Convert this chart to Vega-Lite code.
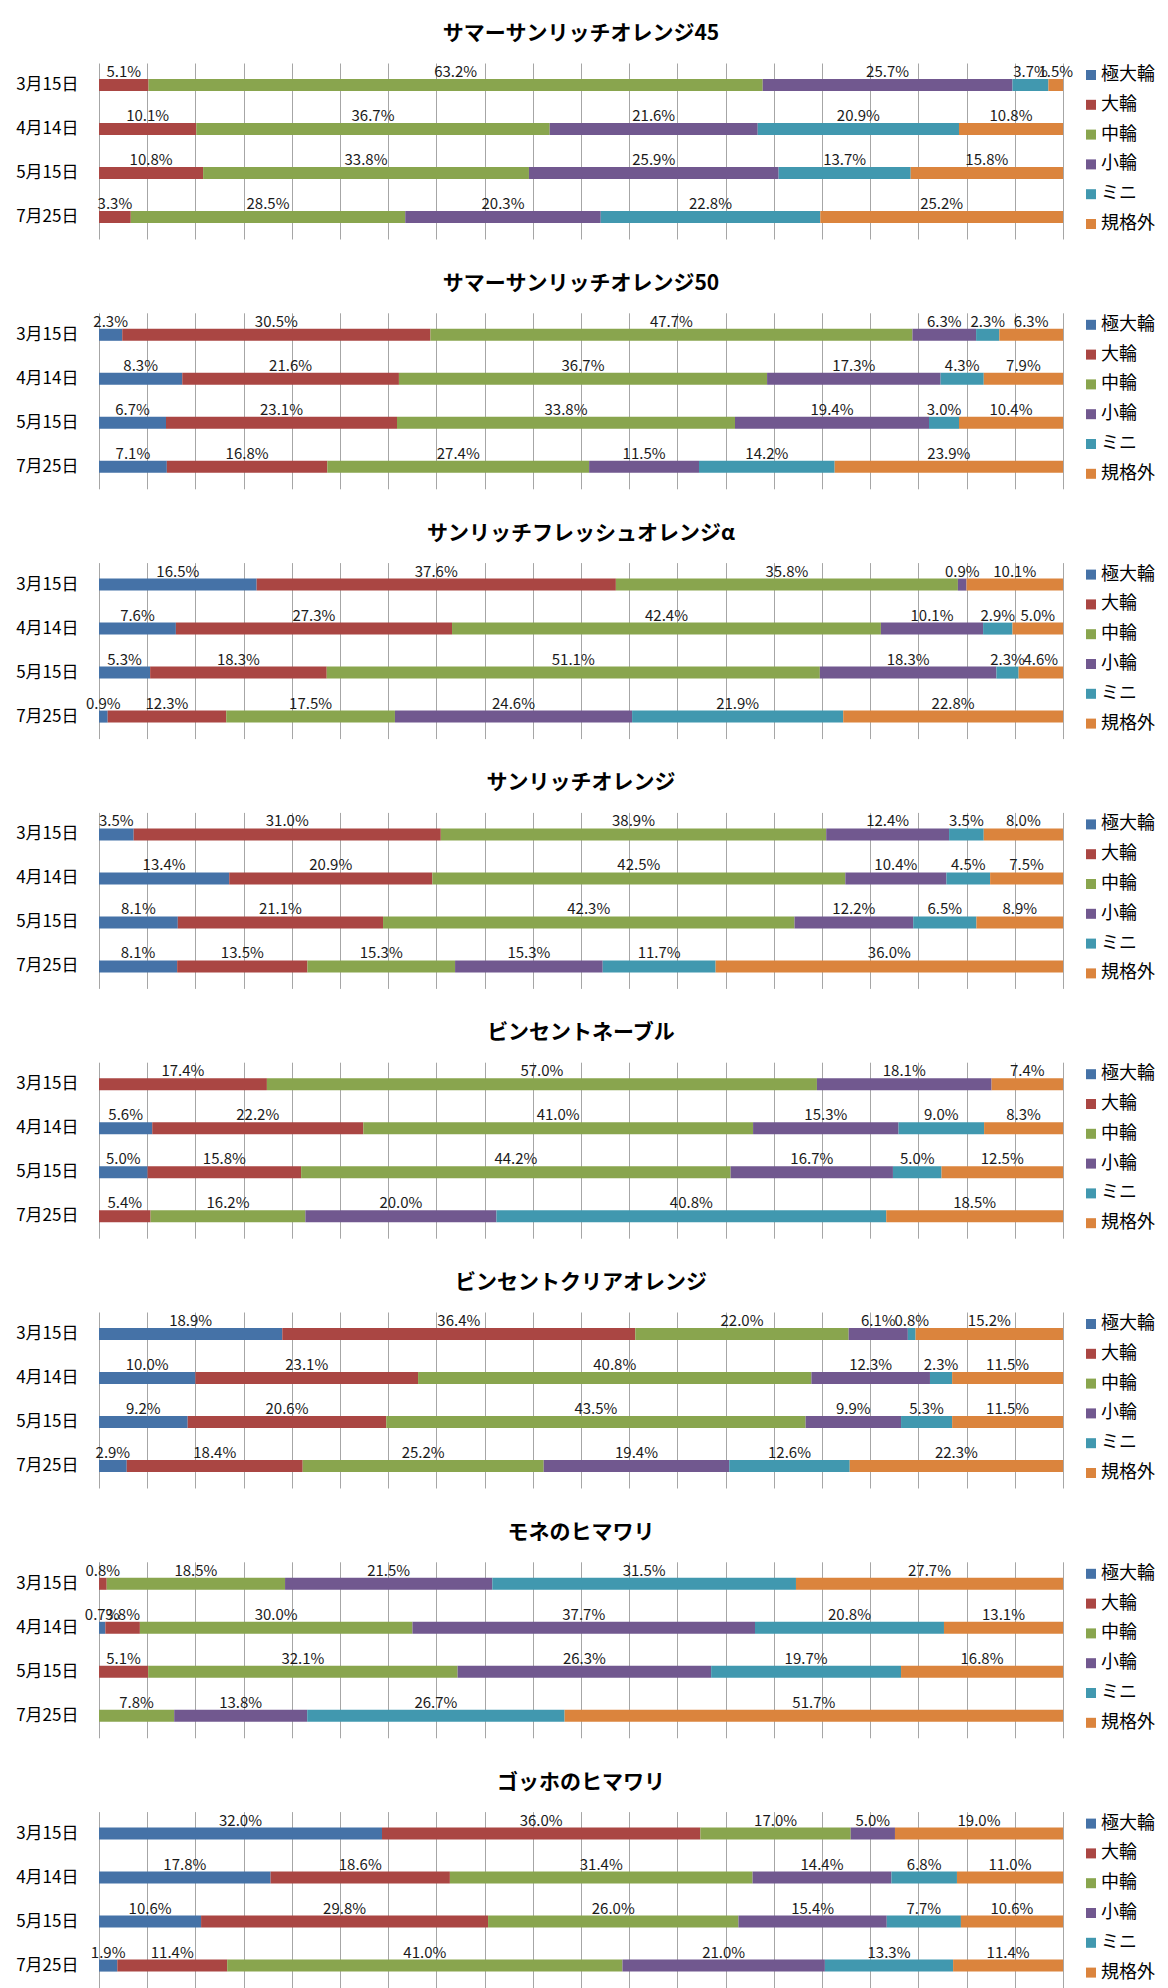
{
  "$schema": "https://vega.github.io/schema/vega-lite/v6.json",
  "padding": {"left": 15, "top": 23, "right": 5, "bottom": 1},
  "background": "#ffffff",
  "data": {"values": [
    {"v":"サマーサンリッチオレンジ45","d":"3月15日","c":"大輪","o":1,"p":0.051},
    {"v":"サマーサンリッチオレンジ45","d":"3月15日","c":"中輪","o":2,"p":0.632},
    {"v":"サマーサンリッチオレンジ45","d":"3月15日","c":"小輪","o":3,"p":0.257},
    {"v":"サマーサンリッチオレンジ45","d":"3月15日","c":"ミニ","o":4,"p":0.037},
    {"v":"サマーサンリッチオレンジ45","d":"3月15日","c":"規格外","o":5,"p":0.015},
    {"v":"サマーサンリッチオレンジ45","d":"4月14日","c":"大輪","o":1,"p":0.101},
    {"v":"サマーサンリッチオレンジ45","d":"4月14日","c":"中輪","o":2,"p":0.367},
    {"v":"サマーサンリッチオレンジ45","d":"4月14日","c":"小輪","o":3,"p":0.216},
    {"v":"サマーサンリッチオレンジ45","d":"4月14日","c":"ミニ","o":4,"p":0.209},
    {"v":"サマーサンリッチオレンジ45","d":"4月14日","c":"規格外","o":5,"p":0.108},
    {"v":"サマーサンリッチオレンジ45","d":"5月15日","c":"大輪","o":1,"p":0.108},
    {"v":"サマーサンリッチオレンジ45","d":"5月15日","c":"中輪","o":2,"p":0.338},
    {"v":"サマーサンリッチオレンジ45","d":"5月15日","c":"小輪","o":3,"p":0.259},
    {"v":"サマーサンリッチオレンジ45","d":"5月15日","c":"ミニ","o":4,"p":0.137},
    {"v":"サマーサンリッチオレンジ45","d":"5月15日","c":"規格外","o":5,"p":0.158},
    {"v":"サマーサンリッチオレンジ45","d":"7月25日","c":"大輪","o":1,"p":0.033},
    {"v":"サマーサンリッチオレンジ45","d":"7月25日","c":"中輪","o":2,"p":0.285},
    {"v":"サマーサンリッチオレンジ45","d":"7月25日","c":"小輪","o":3,"p":0.203},
    {"v":"サマーサンリッチオレンジ45","d":"7月25日","c":"ミニ","o":4,"p":0.228},
    {"v":"サマーサンリッチオレンジ45","d":"7月25日","c":"規格外","o":5,"p":0.252},

    {"v":"サマーサンリッチオレンジ50","d":"3月15日","c":"極大輪","o":0,"p":0.023},
    {"v":"サマーサンリッチオレンジ50","d":"3月15日","c":"大輪","o":1,"p":0.305},
    {"v":"サマーサンリッチオレンジ50","d":"3月15日","c":"中輪","o":2,"p":0.477},
    {"v":"サマーサンリッチオレンジ50","d":"3月15日","c":"小輪","o":3,"p":0.063},
    {"v":"サマーサンリッチオレンジ50","d":"3月15日","c":"ミニ","o":4,"p":0.023},
    {"v":"サマーサンリッチオレンジ50","d":"3月15日","c":"規格外","o":5,"p":0.063},
    {"v":"サマーサンリッチオレンジ50","d":"4月14日","c":"極大輪","o":0,"p":0.083},
    {"v":"サマーサンリッチオレンジ50","d":"4月14日","c":"大輪","o":1,"p":0.216},
    {"v":"サマーサンリッチオレンジ50","d":"4月14日","c":"中輪","o":2,"p":0.367},
    {"v":"サマーサンリッチオレンジ50","d":"4月14日","c":"小輪","o":3,"p":0.173},
    {"v":"サマーサンリッチオレンジ50","d":"4月14日","c":"ミニ","o":4,"p":0.043},
    {"v":"サマーサンリッチオレンジ50","d":"4月14日","c":"規格外","o":5,"p":0.079},
    {"v":"サマーサンリッチオレンジ50","d":"5月15日","c":"極大輪","o":0,"p":0.067},
    {"v":"サマーサンリッチオレンジ50","d":"5月15日","c":"大輪","o":1,"p":0.231},
    {"v":"サマーサンリッチオレンジ50","d":"5月15日","c":"中輪","o":2,"p":0.338},
    {"v":"サマーサンリッチオレンジ50","d":"5月15日","c":"小輪","o":3,"p":0.194},
    {"v":"サマーサンリッチオレンジ50","d":"5月15日","c":"ミニ","o":4,"p":0.030},
    {"v":"サマーサンリッチオレンジ50","d":"5月15日","c":"規格外","o":5,"p":0.104},
    {"v":"サマーサンリッチオレンジ50","d":"7月25日","c":"極大輪","o":0,"p":0.071},
    {"v":"サマーサンリッチオレンジ50","d":"7月25日","c":"大輪","o":1,"p":0.168},
    {"v":"サマーサンリッチオレンジ50","d":"7月25日","c":"中輪","o":2,"p":0.274},
    {"v":"サマーサンリッチオレンジ50","d":"7月25日","c":"小輪","o":3,"p":0.115},
    {"v":"サマーサンリッチオレンジ50","d":"7月25日","c":"ミニ","o":4,"p":0.142},
    {"v":"サマーサンリッチオレンジ50","d":"7月25日","c":"規格外","o":5,"p":0.239},

    {"v":"サンリッチフレッシュオレンジα","d":"3月15日","c":"極大輪","o":0,"p":0.165},
    {"v":"サンリッチフレッシュオレンジα","d":"3月15日","c":"大輪","o":1,"p":0.376},
    {"v":"サンリッチフレッシュオレンジα","d":"3月15日","c":"中輪","o":2,"p":0.358},
    {"v":"サンリッチフレッシュオレンジα","d":"3月15日","c":"小輪","o":3,"p":0.009},
    {"v":"サンリッチフレッシュオレンジα","d":"3月15日","c":"規格外","o":5,"p":0.101},
    {"v":"サンリッチフレッシュオレンジα","d":"4月14日","c":"極大輪","o":0,"p":0.076},
    {"v":"サンリッチフレッシュオレンジα","d":"4月14日","c":"大輪","o":1,"p":0.273},
    {"v":"サンリッチフレッシュオレンジα","d":"4月14日","c":"中輪","o":2,"p":0.424},
    {"v":"サンリッチフレッシュオレンジα","d":"4月14日","c":"小輪","o":3,"p":0.101},
    {"v":"サンリッチフレッシュオレンジα","d":"4月14日","c":"ミニ","o":4,"p":0.029},
    {"v":"サンリッチフレッシュオレンジα","d":"4月14日","c":"規格外","o":5,"p":0.050},
    {"v":"サンリッチフレッシュオレンジα","d":"5月15日","c":"極大輪","o":0,"p":0.053},
    {"v":"サンリッチフレッシュオレンジα","d":"5月15日","c":"大輪","o":1,"p":0.183},
    {"v":"サンリッチフレッシュオレンジα","d":"5月15日","c":"中輪","o":2,"p":0.511},
    {"v":"サンリッチフレッシュオレンジα","d":"5月15日","c":"小輪","o":3,"p":0.183},
    {"v":"サンリッチフレッシュオレンジα","d":"5月15日","c":"ミニ","o":4,"p":0.023},
    {"v":"サンリッチフレッシュオレンジα","d":"5月15日","c":"規格外","o":5,"p":0.046},
    {"v":"サンリッチフレッシュオレンジα","d":"7月25日","c":"極大輪","o":0,"p":0.009},
    {"v":"サンリッチフレッシュオレンジα","d":"7月25日","c":"大輪","o":1,"p":0.123},
    {"v":"サンリッチフレッシュオレンジα","d":"7月25日","c":"中輪","o":2,"p":0.175},
    {"v":"サンリッチフレッシュオレンジα","d":"7月25日","c":"小輪","o":3,"p":0.246},
    {"v":"サンリッチフレッシュオレンジα","d":"7月25日","c":"ミニ","o":4,"p":0.219},
    {"v":"サンリッチフレッシュオレンジα","d":"7月25日","c":"規格外","o":5,"p":0.228},

    {"v":"サンリッチオレンジ","d":"3月15日","c":"極大輪","o":0,"p":0.035},
    {"v":"サンリッチオレンジ","d":"3月15日","c":"大輪","o":1,"p":0.310},
    {"v":"サンリッチオレンジ","d":"3月15日","c":"中輪","o":2,"p":0.389},
    {"v":"サンリッチオレンジ","d":"3月15日","c":"小輪","o":3,"p":0.124},
    {"v":"サンリッチオレンジ","d":"3月15日","c":"ミニ","o":4,"p":0.035},
    {"v":"サンリッチオレンジ","d":"3月15日","c":"規格外","o":5,"p":0.080},
    {"v":"サンリッチオレンジ","d":"4月14日","c":"極大輪","o":0,"p":0.134},
    {"v":"サンリッチオレンジ","d":"4月14日","c":"大輪","o":1,"p":0.209},
    {"v":"サンリッチオレンジ","d":"4月14日","c":"中輪","o":2,"p":0.425},
    {"v":"サンリッチオレンジ","d":"4月14日","c":"小輪","o":3,"p":0.104},
    {"v":"サンリッチオレンジ","d":"4月14日","c":"ミニ","o":4,"p":0.045},
    {"v":"サンリッチオレンジ","d":"4月14日","c":"規格外","o":5,"p":0.075},
    {"v":"サンリッチオレンジ","d":"5月15日","c":"極大輪","o":0,"p":0.081},
    {"v":"サンリッチオレンジ","d":"5月15日","c":"大輪","o":1,"p":0.211},
    {"v":"サンリッチオレンジ","d":"5月15日","c":"中輪","o":2,"p":0.423},
    {"v":"サンリッチオレンジ","d":"5月15日","c":"小輪","o":3,"p":0.122},
    {"v":"サンリッチオレンジ","d":"5月15日","c":"ミニ","o":4,"p":0.065},
    {"v":"サンリッチオレンジ","d":"5月15日","c":"規格外","o":5,"p":0.089},
    {"v":"サンリッチオレンジ","d":"7月25日","c":"極大輪","o":0,"p":0.081},
    {"v":"サンリッチオレンジ","d":"7月25日","c":"大輪","o":1,"p":0.135},
    {"v":"サンリッチオレンジ","d":"7月25日","c":"中輪","o":2,"p":0.153},
    {"v":"サンリッチオレンジ","d":"7月25日","c":"小輪","o":3,"p":0.153},
    {"v":"サンリッチオレンジ","d":"7月25日","c":"ミニ","o":4,"p":0.117},
    {"v":"サンリッチオレンジ","d":"7月25日","c":"規格外","o":5,"p":0.360},

    {"v":"ビンセントネーブル","d":"3月15日","c":"大輪","o":1,"p":0.174},
    {"v":"ビンセントネーブル","d":"3月15日","c":"中輪","o":2,"p":0.570},
    {"v":"ビンセントネーブル","d":"3月15日","c":"小輪","o":3,"p":0.181},
    {"v":"ビンセントネーブル","d":"3月15日","c":"規格外","o":5,"p":0.074},
    {"v":"ビンセントネーブル","d":"4月14日","c":"極大輪","o":0,"p":0.056},
    {"v":"ビンセントネーブル","d":"4月14日","c":"大輪","o":1,"p":0.222},
    {"v":"ビンセントネーブル","d":"4月14日","c":"中輪","o":2,"p":0.410},
    {"v":"ビンセントネーブル","d":"4月14日","c":"小輪","o":3,"p":0.153},
    {"v":"ビンセントネーブル","d":"4月14日","c":"ミニ","o":4,"p":0.090},
    {"v":"ビンセントネーブル","d":"4月14日","c":"規格外","o":5,"p":0.083},
    {"v":"ビンセントネーブル","d":"5月15日","c":"極大輪","o":0,"p":0.050},
    {"v":"ビンセントネーブル","d":"5月15日","c":"大輪","o":1,"p":0.158},
    {"v":"ビンセントネーブル","d":"5月15日","c":"中輪","o":2,"p":0.442},
    {"v":"ビンセントネーブル","d":"5月15日","c":"小輪","o":3,"p":0.167},
    {"v":"ビンセントネーブル","d":"5月15日","c":"ミニ","o":4,"p":0.050},
    {"v":"ビンセントネーブル","d":"5月15日","c":"規格外","o":5,"p":0.125},
    {"v":"ビンセントネーブル","d":"7月25日","c":"大輪","o":1,"p":0.054},
    {"v":"ビンセントネーブル","d":"7月25日","c":"中輪","o":2,"p":0.162},
    {"v":"ビンセントネーブル","d":"7月25日","c":"小輪","o":3,"p":0.200},
    {"v":"ビンセントネーブル","d":"7月25日","c":"ミニ","o":4,"p":0.408},
    {"v":"ビンセントネーブル","d":"7月25日","c":"規格外","o":5,"p":0.185},

    {"v":"ビンセントクリアオレンジ","d":"3月15日","c":"極大輪","o":0,"p":0.189},
    {"v":"ビンセントクリアオレンジ","d":"3月15日","c":"大輪","o":1,"p":0.364},
    {"v":"ビンセントクリアオレンジ","d":"3月15日","c":"中輪","o":2,"p":0.220},
    {"v":"ビンセントクリアオレンジ","d":"3月15日","c":"小輪","o":3,"p":0.061},
    {"v":"ビンセントクリアオレンジ","d":"3月15日","c":"ミニ","o":4,"p":0.008},
    {"v":"ビンセントクリアオレンジ","d":"3月15日","c":"規格外","o":5,"p":0.152},
    {"v":"ビンセントクリアオレンジ","d":"4月14日","c":"極大輪","o":0,"p":0.100},
    {"v":"ビンセントクリアオレンジ","d":"4月14日","c":"大輪","o":1,"p":0.231},
    {"v":"ビンセントクリアオレンジ","d":"4月14日","c":"中輪","o":2,"p":0.408},
    {"v":"ビンセントクリアオレンジ","d":"4月14日","c":"小輪","o":3,"p":0.123},
    {"v":"ビンセントクリアオレンジ","d":"4月14日","c":"ミニ","o":4,"p":0.023},
    {"v":"ビンセントクリアオレンジ","d":"4月14日","c":"規格外","o":5,"p":0.115},
    {"v":"ビンセントクリアオレンジ","d":"5月15日","c":"極大輪","o":0,"p":0.092},
    {"v":"ビンセントクリアオレンジ","d":"5月15日","c":"大輪","o":1,"p":0.206},
    {"v":"ビンセントクリアオレンジ","d":"5月15日","c":"中輪","o":2,"p":0.435},
    {"v":"ビンセントクリアオレンジ","d":"5月15日","c":"小輪","o":3,"p":0.099},
    {"v":"ビンセントクリアオレンジ","d":"5月15日","c":"ミニ","o":4,"p":0.053},
    {"v":"ビンセントクリアオレンジ","d":"5月15日","c":"規格外","o":5,"p":0.115},
    {"v":"ビンセントクリアオレンジ","d":"7月25日","c":"極大輪","o":0,"p":0.029},
    {"v":"ビンセントクリアオレンジ","d":"7月25日","c":"大輪","o":1,"p":0.184},
    {"v":"ビンセントクリアオレンジ","d":"7月25日","c":"中輪","o":2,"p":0.252},
    {"v":"ビンセントクリアオレンジ","d":"7月25日","c":"小輪","o":3,"p":0.194},
    {"v":"ビンセントクリアオレンジ","d":"7月25日","c":"ミニ","o":4,"p":0.126},
    {"v":"ビンセントクリアオレンジ","d":"7月25日","c":"規格外","o":5,"p":0.223},

    {"v":"モネのヒマワリ","d":"3月15日","c":"大輪","o":1,"p":0.008},
    {"v":"モネのヒマワリ","d":"3月15日","c":"中輪","o":2,"p":0.185},
    {"v":"モネのヒマワリ","d":"3月15日","c":"小輪","o":3,"p":0.215},
    {"v":"モネのヒマワリ","d":"3月15日","c":"ミニ","o":4,"p":0.315},
    {"v":"モネのヒマワリ","d":"3月15日","c":"規格外","o":5,"p":0.277},
    {"v":"モネのヒマワリ","d":"4月14日","c":"極大輪","o":0,"p":0.007},
    {"v":"モネのヒマワリ","d":"4月14日","c":"大輪","o":1,"p":0.038},
    {"v":"モネのヒマワリ","d":"4月14日","c":"中輪","o":2,"p":0.300},
    {"v":"モネのヒマワリ","d":"4月14日","c":"小輪","o":3,"p":0.377},
    {"v":"モネのヒマワリ","d":"4月14日","c":"ミニ","o":4,"p":0.208},
    {"v":"モネのヒマワリ","d":"4月14日","c":"規格外","o":5,"p":0.131},
    {"v":"モネのヒマワリ","d":"5月15日","c":"大輪","o":1,"p":0.051},
    {"v":"モネのヒマワリ","d":"5月15日","c":"中輪","o":2,"p":0.321},
    {"v":"モネのヒマワリ","d":"5月15日","c":"小輪","o":3,"p":0.263},
    {"v":"モネのヒマワリ","d":"5月15日","c":"ミニ","o":4,"p":0.197},
    {"v":"モネのヒマワリ","d":"5月15日","c":"規格外","o":5,"p":0.168},
    {"v":"モネのヒマワリ","d":"7月25日","c":"中輪","o":2,"p":0.078},
    {"v":"モネのヒマワリ","d":"7月25日","c":"小輪","o":3,"p":0.138},
    {"v":"モネのヒマワリ","d":"7月25日","c":"ミニ","o":4,"p":0.267},
    {"v":"モネのヒマワリ","d":"7月25日","c":"規格外","o":5,"p":0.517},

    {"v":"ゴッホのヒマワリ","d":"3月15日","c":"極大輪","o":0,"p":0.320},
    {"v":"ゴッホのヒマワリ","d":"3月15日","c":"大輪","o":1,"p":0.360},
    {"v":"ゴッホのヒマワリ","d":"3月15日","c":"中輪","o":2,"p":0.170},
    {"v":"ゴッホのヒマワリ","d":"3月15日","c":"小輪","o":3,"p":0.050},
    {"v":"ゴッホのヒマワリ","d":"3月15日","c":"規格外","o":5,"p":0.190},
    {"v":"ゴッホのヒマワリ","d":"4月14日","c":"極大輪","o":0,"p":0.178},
    {"v":"ゴッホのヒマワリ","d":"4月14日","c":"大輪","o":1,"p":0.186},
    {"v":"ゴッホのヒマワリ","d":"4月14日","c":"中輪","o":2,"p":0.314},
    {"v":"ゴッホのヒマワリ","d":"4月14日","c":"小輪","o":3,"p":0.144},
    {"v":"ゴッホのヒマワリ","d":"4月14日","c":"ミニ","o":4,"p":0.068},
    {"v":"ゴッホのヒマワリ","d":"4月14日","c":"規格外","o":5,"p":0.110},
    {"v":"ゴッホのヒマワリ","d":"5月15日","c":"極大輪","o":0,"p":0.106},
    {"v":"ゴッホのヒマワリ","d":"5月15日","c":"大輪","o":1,"p":0.298},
    {"v":"ゴッホのヒマワリ","d":"5月15日","c":"中輪","o":2,"p":0.260},
    {"v":"ゴッホのヒマワリ","d":"5月15日","c":"小輪","o":3,"p":0.154},
    {"v":"ゴッホのヒマワリ","d":"5月15日","c":"ミニ","o":4,"p":0.077},
    {"v":"ゴッホのヒマワリ","d":"5月15日","c":"規格外","o":5,"p":0.106},
    {"v":"ゴッホのヒマワリ","d":"7月25日","c":"極大輪","o":0,"p":0.019},
    {"v":"ゴッホのヒマワリ","d":"7月25日","c":"大輪","o":1,"p":0.114},
    {"v":"ゴッホのヒマワリ","d":"7月25日","c":"中輪","o":2,"p":0.410},
    {"v":"ゴッホのヒマワリ","d":"7月25日","c":"小輪","o":3,"p":0.210},
    {"v":"ゴッホのヒマワリ","d":"7月25日","c":"ミニ","o":4,"p":0.133},
    {"v":"ゴッホのヒマワリ","d":"7月25日","c":"規格外","o":5,"p":0.114}
  ]},
  "spacing": 33.8,
  "resolve": {"legend": {"color": "independent"}},
  "vconcat": [
    {"title": "サマーサンリッチオレンジ45", "width": 964, "height": 176,
     "transform": [{"filter": "datum.v === 'サマーサンリッチオレンジ45'"}],
     "encoding": {"y": {"field": "d", "type": "nominal", "sort": ["3月15日","4月14日","5月15日","7月25日"], "title": null}},
     "layer": [
       {"mark": {"type": "bar", "size": 12}, "encoding": {"x": {"field": "p", "type": "quantitative", "stack": "normalize", "title": null}, "color": {"field": "c", "type": "nominal", "scale": {"domain": ["極大輪","大輪","中輪","小輪","ミニ","規格外"]}}, "order": {"field": "o"}}},
       {"mark": {"type": "text"}, "encoding": {"x": {"field": "p", "type": "quantitative", "stack": "normalize", "bandPosition": 0.5}, "detail": {"field": "c"}, "order": {"field": "o"}, "text": {"field": "p", "format": ".1%"}}}
     ]},
    {"title": "サマーサンリッチオレンジ50", "width": 964, "height": 176,
     "transform": [{"filter": "datum.v === 'サマーサンリッチオレンジ50'"}],
     "encoding": {"y": {"field": "d", "type": "nominal", "sort": ["3月15日","4月14日","5月15日","7月25日"], "title": null}},
     "layer": [
       {"mark": {"type": "bar", "size": 12}, "encoding": {"x": {"field": "p", "type": "quantitative", "stack": "normalize", "title": null}, "color": {"field": "c", "type": "nominal", "scale": {"domain": ["極大輪","大輪","中輪","小輪","ミニ","規格外"]}}, "order": {"field": "o"}}},
       {"mark": {"type": "text"}, "encoding": {"x": {"field": "p", "type": "quantitative", "stack": "normalize", "bandPosition": 0.5}, "detail": {"field": "c"}, "order": {"field": "o"}, "text": {"field": "p", "format": ".1%"}}}
     ]},
    {"title": "サンリッチフレッシュオレンジα", "width": 964, "height": 176,
     "transform": [{"filter": "datum.v === 'サンリッチフレッシュオレンジα'"}],
     "encoding": {"y": {"field": "d", "type": "nominal", "sort": ["3月15日","4月14日","5月15日","7月25日"], "title": null}},
     "layer": [
       {"mark": {"type": "bar", "size": 12}, "encoding": {"x": {"field": "p", "type": "quantitative", "stack": "normalize", "title": null}, "color": {"field": "c", "type": "nominal", "scale": {"domain": ["極大輪","大輪","中輪","小輪","ミニ","規格外"]}}, "order": {"field": "o"}}},
       {"mark": {"type": "text"}, "encoding": {"x": {"field": "p", "type": "quantitative", "stack": "normalize", "bandPosition": 0.5}, "detail": {"field": "c"}, "order": {"field": "o"}, "text": {"field": "p", "format": ".1%"}}}
     ]},
    {"title": "サンリッチオレンジ", "width": 964, "height": 176,
     "transform": [{"filter": "datum.v === 'サンリッチオレンジ'"}],
     "encoding": {"y": {"field": "d", "type": "nominal", "sort": ["3月15日","4月14日","5月15日","7月25日"], "title": null}},
     "layer": [
       {"mark": {"type": "bar", "size": 12}, "encoding": {"x": {"field": "p", "type": "quantitative", "stack": "normalize", "title": null}, "color": {"field": "c", "type": "nominal", "scale": {"domain": ["極大輪","大輪","中輪","小輪","ミニ","規格外"]}}, "order": {"field": "o"}}},
       {"mark": {"type": "text"}, "encoding": {"x": {"field": "p", "type": "quantitative", "stack": "normalize", "bandPosition": 0.5}, "detail": {"field": "c"}, "order": {"field": "o"}, "text": {"field": "p", "format": ".1%"}}}
     ]},
    {"title": "ビンセントネーブル", "width": 964, "height": 176,
     "transform": [{"filter": "datum.v === 'ビンセントネーブル'"}],
     "encoding": {"y": {"field": "d", "type": "nominal", "sort": ["3月15日","4月14日","5月15日","7月25日"], "title": null}},
     "layer": [
       {"mark": {"type": "bar", "size": 12}, "encoding": {"x": {"field": "p", "type": "quantitative", "stack": "normalize", "title": null}, "color": {"field": "c", "type": "nominal", "scale": {"domain": ["極大輪","大輪","中輪","小輪","ミニ","規格外"]}}, "order": {"field": "o"}}},
       {"mark": {"type": "text"}, "encoding": {"x": {"field": "p", "type": "quantitative", "stack": "normalize", "bandPosition": 0.5}, "detail": {"field": "c"}, "order": {"field": "o"}, "text": {"field": "p", "format": ".1%"}}}
     ]},
    {"title": "ビンセントクリアオレンジ", "width": 964, "height": 176,
     "transform": [{"filter": "datum.v === 'ビンセントクリアオレンジ'"}],
     "encoding": {"y": {"field": "d", "type": "nominal", "sort": ["3月15日","4月14日","5月15日","7月25日"], "title": null}},
     "layer": [
       {"mark": {"type": "bar", "size": 12}, "encoding": {"x": {"field": "p", "type": "quantitative", "stack": "normalize", "title": null}, "color": {"field": "c", "type": "nominal", "scale": {"domain": ["極大輪","大輪","中輪","小輪","ミニ","規格外"]}}, "order": {"field": "o"}}},
       {"mark": {"type": "text"}, "encoding": {"x": {"field": "p", "type": "quantitative", "stack": "normalize", "bandPosition": 0.5}, "detail": {"field": "c"}, "order": {"field": "o"}, "text": {"field": "p", "format": ".1%"}}}
     ]},
    {"title": "モネのヒマワリ", "width": 964, "height": 176,
     "transform": [{"filter": "datum.v === 'モネのヒマワリ'"}],
     "encoding": {"y": {"field": "d", "type": "nominal", "sort": ["3月15日","4月14日","5月15日","7月25日"], "title": null}},
     "layer": [
       {"mark": {"type": "bar", "size": 12}, "encoding": {"x": {"field": "p", "type": "quantitative", "stack": "normalize", "title": null}, "color": {"field": "c", "type": "nominal", "scale": {"domain": ["極大輪","大輪","中輪","小輪","ミニ","規格外"]}}, "order": {"field": "o"}}},
       {"mark": {"type": "text"}, "encoding": {"x": {"field": "p", "type": "quantitative", "stack": "normalize", "bandPosition": 0.5}, "detail": {"field": "c"}, "order": {"field": "o"}, "text": {"field": "p", "format": ".1%"}}}
     ]},
    {"title": "ゴッホのヒマワリ", "width": 964, "height": 176,
     "transform": [{"filter": "datum.v === 'ゴッホのヒマワリ'"}],
     "encoding": {"y": {"field": "d", "type": "nominal", "sort": ["3月15日","4月14日","5月15日","7月25日"], "title": null}},
     "layer": [
       {"mark": {"type": "bar", "size": 12}, "encoding": {"x": {"field": "p", "type": "quantitative", "stack": "normalize", "title": null}, "color": {"field": "c", "type": "nominal", "scale": {"domain": ["極大輪","大輪","中輪","小輪","ミニ","規格外"]}}, "order": {"field": "o"}}},
       {"mark": {"type": "text"}, "encoding": {"x": {"field": "p", "type": "quantitative", "stack": "normalize", "bandPosition": 0.5}, "detail": {"field": "c"}, "order": {"field": "o"}, "text": {"field": "p", "format": ".1%"}}}
     ]}
  ],
  "config": {
    "font": "Noto Sans CJK JP",
    "view": {"stroke": null},
    "title": {"fontSize": 21, "fontWeight": "bold", "color": "#000000", "offset": 19, "anchor": "middle", "font": "Noto Sans CJK JP"},
    "scale": {"bandPaddingInner": 0, "bandPaddingOuter": 0},
    "range": {"category": ["#4572A7", "#AA4643", "#89A54E", "#71588F", "#4198AF", "#DB843D"]},
    "text": {"fontSize": 15, "color": "#1a1a1a", "baseline": "alphabetic", "dy": -8},
    "axisX": {"grid": true, "labels": false, "ticks": false, "domain": false, "title": null, "gridColor": "#a6a6a6", "gridWidth": 1, "gridOpacity": 1, "values": [0, 0.1, 0.2, 0.3, 0.4, 0.5, 0.6, 0.7, 0.8, 0.9, 1]},
    "axisY": {"grid": false, "ticks": false, "domain": false, "labelFontSize": 17, "labelColor": "#000000", "labelPadding": 21},
    "legend": {"title": null, "orient": "right", "offset": 16, "padding": 3, "symbolType": "square", "symbolSize": 100, "symbolStrokeWidth": 0, "labelFontSize": 18, "labelColor": "#000000", "labelOffset": 1, "rowPadding": 11.8}
  }
}
